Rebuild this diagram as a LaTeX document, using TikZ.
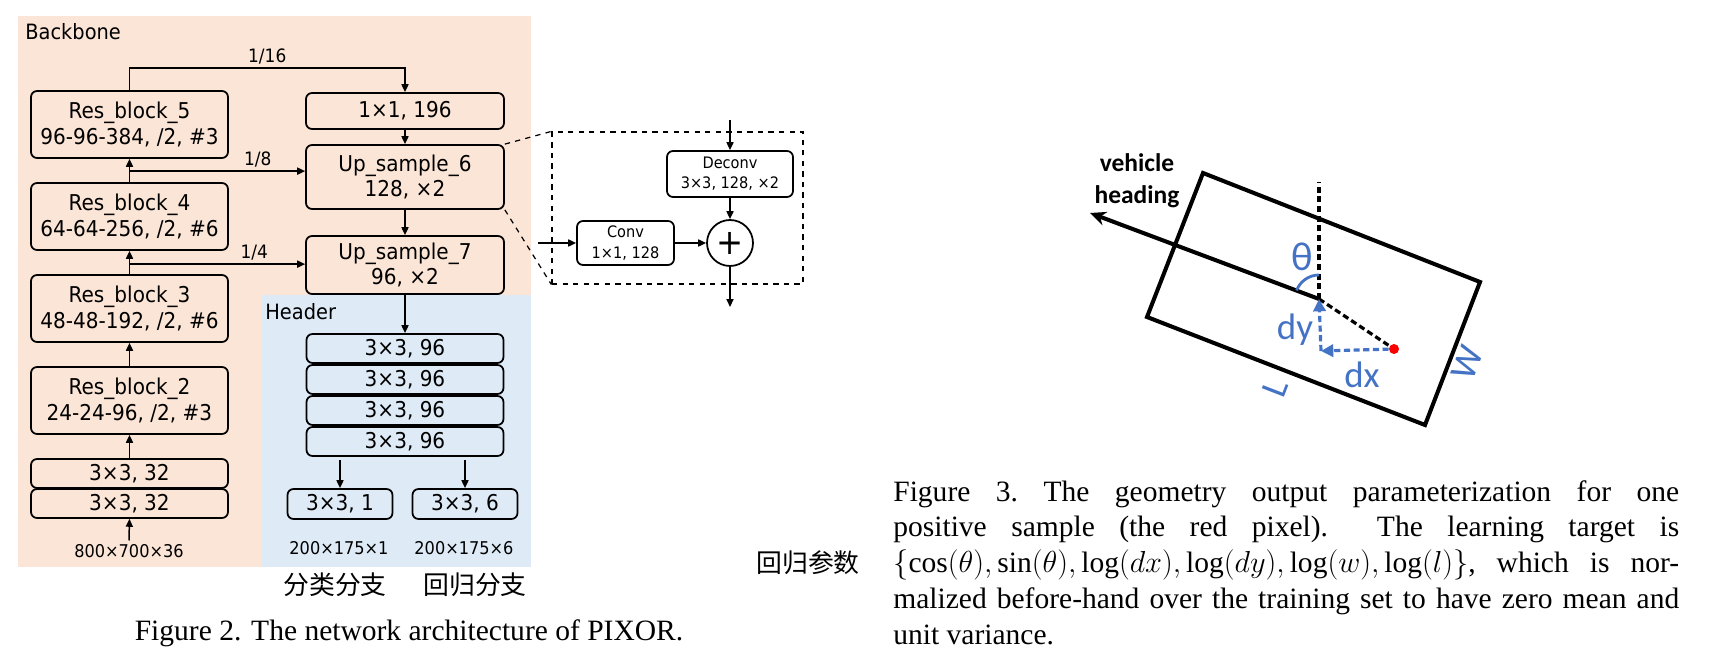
\documentclass[tikz,border=0pt]{standalone}
\usepackage{fontspec}
\setmainfont{Liberation Serif}
\newfontfamily\boxfont[FakeStretch=0.92]{DejaVu Sans}
\newfontfamily\carfont{Carlito}
\newfontfamily\cjk{Noto Sans CJK SC}
\usetikzlibrary{arrows.meta,calc}
\definecolor{bbpeach}{HTML}{FBE5D6}
\definecolor{hdblue}{HTML}{DEEBF7}
\definecolor{geoblue}{HTML}{4472C4}

\tikzset{
  blk/.style={draw, line width=1pt, rounded corners=0.12cm, align=center, inner sep=0pt,
    font=\boxfont\fontsize{12.4}{14.7}\selectfont},
  resblk/.style={blk, minimum width=3.94cm, minimum height=1.34cm},
  thinblk/.style={blk, minimum width=3.94cm, minimum height=0.58cm},
  outblk/.style={blk, minimum width=2.1cm, minimum height=0.6cm},
  smallblk/.style={blk, font=\boxfont\fontsize{9}{11.5}\selectfont},
  arr/.style={line width=0.85pt, -{Triangle[length=4.5pt,width=4pt]}},
  lbl/.style={font=\boxfont\fontsize{10}{12}\selectfont, inner sep=2pt},
  frac/.style={lbl, font=\boxfont\fontsize{10.5}{12}\selectfont},
  grp/.style={font=\boxfont\fontsize{12}{14}\selectfont, inner sep=0pt},
  capt/.style={font=\fontsize{16.8}{20.4}\selectfont, inner sep=0pt},
  cjklbl/.style={font=\cjk\fontsize{14.7}{16}\selectfont},
  carline/.style={line width=2.3pt},
  blkdash/.style={line width=1.8pt, dash pattern=on 3.5pt off 2pt},
  bluedash/.style={geoblue, line width=1.8pt, dash pattern=on 3.5pt off 2pt,
    -{Triangle[length=7pt,width=7pt]}},
  geotxt/.style={geoblue, font=\carfont\fontsize{21}{22}\selectfont, inner sep=0pt}
}

\begin{document}
\begin{tikzpicture}[x=0.02cm,y=-0.02cm]
\useasboundingbox (0,0) rectangle (1709,671);

% backgrounds
\fill[bbpeach] (18,16) rectangle (531,567);
\fill[hdblue] (262,295) rectangle (531,567);
\node[grp,anchor=west] (bbtxt) at (25,32) {Backbone};
\node[grp,anchor=west] (hdtxt) at (265,312) {Header};

% backbone
\node[resblk] (res5) at (129.5,124.5) {Res\_block\_5\\96-96-384, /2, \#3};
\node[resblk] (res4) at (129.5,216.5) {Res\_block\_4\\64-64-256, /2, \#6};
\node[resblk] (res3) at (129.5,308.5) {Res\_block\_3\\48-48-192, /2, \#6};
\node[resblk] (res2) at (129.5,400.5) {Res\_block\_2\\24-24-96, /2, \#3};
\node[thinblk] (convb) at (129.5,473.5) {3×3, 32};
\node[thinblk] (conva) at (129.5,503.5) {3×3, 32};
\node[lbl] (inp) at (129,551) {800×700×36};

\node[blk,minimum width=3.96cm,minimum height=0.72cm] (c196) at (405,111) {1×1, 196};
\node[blk,minimum width=3.96cm,minimum height=1.28cm] (up6) at (405,177) {Up\_sample\_6\\128, ×2};
\node[blk,minimum width=3.96cm,minimum height=1.16cm] (up7) at (405,265) {Up\_sample\_7\\96, ×2};

\draw[arr] (inp.north) -- (conva.south);
\draw[arr] (convb.north) -- (res2.south);
\draw[arr] (res2.north) -- (res3.south);
\draw[arr] (res3.north) -- (res4.south);
\draw[arr] (res4.north) -- (res5.south);
\draw[arr] (res5.north) -- ++(0,-22) -| node[pos=0.25,above,frac] {1/16} (c196.north);
\coordinate (b8) at ($(res4.north)+(0,-11)$);
\coordinate (b4) at ($(res3.north)+(0,-10)$);
\draw[arr] (b8) -- (b8 -| up6.west) node[pos=0.73,above,frac] {1/8};
\draw[arr] (b4) -- (b4 -| up7.west) node[pos=0.71,above,frac] {1/4};
\draw[arr] (c196.south) -- (up6.north);
\draw[arr] (up6.south) -- (up7.north);

% header
\node[thinblk] (hd1) at (405,348.5) {3×3, 96};
\node[thinblk] (hd2) at (405,379.5) {3×3, 96};
\node[thinblk] (hd3) at (405,410.5) {3×3, 96};
\node[thinblk] (hd4) at (405,441.5) {3×3, 96};
\node[outblk] (cls) at (340,504) {3×3, 1};
\node[outblk] (reg) at (465,504) {3×3, 6};
\node[lbl] (clsout) at (339,548) {200×175×1};
\node[lbl] (regout) at (464,548) {200×175×6};
\draw[arr] (up7.south) -- (hd1.north);
\draw[arr] ($(cls.north |- hd4.south)+(0,3)$) -- (cls.north);
\draw[arr] ($(reg.north |- hd4.south)+(0,3)$) -- (reg.north);
\node[cjklbl] (clstxt) at (335,585) {分类分支};
\node[cjklbl] (regtxt) at (475,585) {回归分支};

% zoom of Up_sample_6
\node[draw,dashed,line width=0.7pt,minimum width=5.02cm,minimum height=3.04cm,inner sep=0pt] (zoom) at (677.5,208) {};
\draw[dashed,line width=0.7pt] (up6.north east) -- (zoom.north west);
\draw[dashed,line width=0.7pt] (up6.south east) -- (zoom.south west);
\node[smallblk,minimum width=2.52cm,minimum height=0.92cm] (deconv) at (730,174) {Deconv\\3×3, 128, ×2};
\node[smallblk,minimum width=1.94cm,minimum height=0.88cm] (conv) at (625.5,243) {Conv\\1×1, 128};
\node[draw,circle,line width=1pt,minimum size=0.92cm,inner sep=0pt,font=\boxfont\fontsize{20}{20}\selectfont] (plus) at (730,243) {+};
\coordinate (din) at (730,120);
\coordinate (cin) at (538,243);
\coordinate (pout) at (730,307);
\draw[arr] (din) -- (deconv.north);
\draw[arr] (deconv.south) -- (plus.north);
\draw[arr] (cin) -- (conv.west);
\draw[arr] (conv.east) -- (plus.west);
\draw[arr] (plus.south) -- (pout);

% geometry
\coordinate (ca) at (1203,173);
\coordinate (cb) at (1480,282);
\coordinate (cc) at (1425,425);
\coordinate (cd) at (1147,317);
\coordinate (ctr) at (1319,299);
\coordinate (hdg) at (1090,213);
\coordinate (vtop) at (1319,182);
\coordinate (cnr) at (1321,351);
\draw[carline,line join=miter] (ca) -- (cb) -- (cc) -- (cd) -- cycle;
\draw[carline,-{Stealth[length=9pt,width=8pt]}] (ctr) -- (hdg);
\node[align=center,font=\carfont\bfseries\fontsize{14.5}{18}\selectfont] (vh) at (1137,181) {vehicle\\heading};
\draw[blkdash] (ctr) -- (vtop);
\node[circle,fill=red,minimum size=0.2cm,inner sep=0pt] (px) at (1394,349) {};
\draw[blkdash] (ctr) -- (px);
\draw[bluedash] (px) -- (cnr);
\draw[bluedash] (cnr) -- (ctr);
\draw[geoblue,line width=1.6pt] ($(ctr)+(0,-24)$) arc[start angle=90,end angle=159,radius=0.48cm];
\node[geotxt,font=\carfont\fontsize{23}{24}\selectfont] (th) at (1302,257) {θ};
\node[geotxt] (dy) at (1295,330) {dy};
\node[geotxt] (dx) at (1362,375) {dx};
\node[geotxt,rotate=69] (ll) at (1275,388) {L};
\node[geotxt,rotate=69] (ww) at (1467,363) {W};

% captions
\node[capt] (cap2) at (409,633) {Figure 2. The network architecture of PIXOR.};
\node[cjklbl] (regpar) at (808,563) {回归参数};
\node[capt,text width=15.72cm,align=justify,anchor=north west] (cap3) at (893,480)
  {\frenchspacing\hyphenpenalty=10000\tolerance=10000
   Figure 3. The geometry output parameterization for one\linebreak
   positive sample (the red pixel).\ \ The learning target is\linebreak
   $\{\cos(\theta),\sin(\theta),\log(dx),\log(dy),\log(w),\log(l)\}$, which is nor-\linebreak
   malized before-hand over the training set to have zero mean and\linebreak
   unit variance.};
\end{tikzpicture}
\end{document}
